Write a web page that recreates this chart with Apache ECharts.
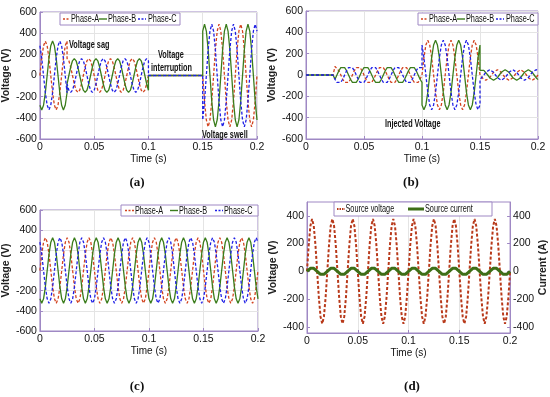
<!DOCTYPE html>
<html><head><meta charset="utf-8">
<script src="https://cdn.jsdelivr.net/npm/echarts@6/dist/echarts.min.js"></script>
<style>html,body{margin:0;padding:0;background:#fff}#chart{width:550px;height:397px}</style>
</head><body><div id="chart"></div>
<script>
// ---------- time samples (s) ----------
const timeSteady = [
0,0.00167,0.00333,0.005,0.00667,0.00833,
0.01,0.01167,0.01333,0.015,0.01667,0.01833,
0.02,0.02167,0.02333,0.025,0.02667,0.02833,
0.03,0.03167,0.03333,0.035,0.03667,0.03833,
0.04,0.04167,0.04333,0.045,0.04667,0.04833,
0.05,0.05167,0.05333,0.055,0.05667,0.05833,
0.06,0.06167,0.06333,0.065,0.06667,0.06833,
0.07,0.07167,0.07333,0.075,0.07667,0.07833,
0.08,0.08167,0.08333,0.085,0.08667,0.08833,
0.09,0.09167,0.09333,0.095,0.09667,0.09833,
0.1,0.10167,0.10333,0.105,0.10667,0.10833,
0.11,0.11167,0.11333,0.115,0.11667,0.11833,
0.12,0.12167,0.12333,0.125,0.12667,0.12833,
0.13,0.13167,0.13333,0.135,0.13667,0.13833,
0.14,0.14167,0.14333,0.145,0.14667,0.14833,
0.15,0.15167,0.15333,0.155,0.15667,0.15833,
0.16,0.16167,0.16333,0.165,0.16667,0.16833,
0.17,0.17167,0.17333,0.175,0.17667,0.17833,
0.18,0.18167,0.18333,0.185,0.18667,0.18833,
0.19,0.19167,0.19333,0.195,0.19667,0.19833,
0.2];
// same instants, with the switching instants 0.025 / 0.1 / 0.15 listed twice (step changes)
const timeEvent = [
0,0.00167,0.00333,0.005,0.00667,0.00833,
0.01,0.01167,0.01333,0.015,0.01667,0.01833,
0.02,0.02167,0.02333,0.025,0.025,0.02667,0.02833,
0.03,0.03167,0.03333,0.035,0.03667,0.03833,
0.04,0.04167,0.04333,0.045,0.04667,0.04833,
0.05,0.05167,0.05333,0.055,0.05667,0.05833,
0.06,0.06167,0.06333,0.065,0.06667,0.06833,
0.07,0.07167,0.07333,0.075,0.07667,0.07833,
0.08,0.08167,0.08333,0.085,0.08667,0.08833,
0.09,0.09167,0.09333,0.095,0.09667,0.09833,
0.1,0.1,0.10167,0.10333,0.105,0.10667,0.10833,
0.11,0.11167,0.11333,0.115,0.11667,0.11833,
0.12,0.12167,0.12333,0.125,0.12667,0.12833,
0.13,0.13167,0.13333,0.135,0.13667,0.13833,
0.14,0.14167,0.14333,0.145,0.14667,0.14833,
0.15,0.15,0.15167,0.15333,0.155,0.15667,0.15833,
0.16,0.16167,0.16333,0.165,0.16667,0.16833,
0.17,0.17167,0.17333,0.175,0.17667,0.17833,
0.18,0.18167,0.18333,0.185,0.18667,0.18833,
0.19,0.19167,0.19333,0.195,0.19667,0.19833,
0.2];

// ---------- (a) grid voltage with sag / interruption / swell ----------
const aPhaseA = [
0,163,281,325,281,163,0,-163,-281,-325,-281,-163,0,163,281,325,
160,139,80,0,-80,-139,-160,-139,-80,
0,80,139,160,139,80,0,-80,-139,-160,-139,-80,
0,80,139,160,139,80,0,-80,-139,-160,-139,-80,
0,80,139,160,139,80,0,-80,-139,-160,-139,-80,
0,
0,0,0,0,0,0,0,0,0,0,0,0,0,0,0,0,0,0,0,0,0,0,0,0,0,0,0,0,0,0,0,
0,-243,-420,-485,-420,-243,
0,243,420,485,420,243,0,-243,-420,-485,-420,-243,
0,243,420,485,420,243,0,-243,-420,-485,-420,-243,
0];
const aPhaseB = [
-281,-325,-281,-163,0,163,281,325,281,163,0,-163,-281,-325,-281,-163,
-80,0,80,139,160,139,80,0,-80,
-139,-160,-139,-80,0,80,139,160,139,80,0,-80,
-139,-160,-139,-80,0,80,139,160,139,80,0,-80,
-139,-160,-139,-80,0,80,139,160,139,80,0,-80,
-139,
0,0,0,0,0,0,0,0,0,0,0,0,0,0,0,0,0,0,0,0,0,0,0,0,0,0,0,0,0,0,0,
420,485,420,243,0,-243,
-420,-485,-420,-243,0,243,420,485,420,243,0,-243,
-420,-485,-420,-243,0,243,420,485,420,243,0,-243,
-420];
const aPhaseC = [
281,163,0,-163,-281,-325,-281,-163,0,163,281,325,281,163,0,-163,
-80,-139,-160,-139,-80,0,80,139,160,
139,80,0,-80,-139,-160,-139,-80,0,80,139,160,
139,80,0,-80,-139,-160,-139,-80,0,80,139,160,
139,80,0,-80,-139,-160,-139,-80,0,80,139,160,
139,
0,0,0,0,0,0,0,0,0,0,0,0,0,0,0,0,0,0,0,0,0,0,0,0,0,0,0,0,0,0,0,
-420,-243,0,243,420,485,
420,243,0,-243,-420,-485,-420,-243,0,243,420,485,
420,243,0,-243,-420,-485,-420,-243,0,243,420,485,
420];

// ---------- (b) injected voltage ----------
const bPhaseA = [
0,0,0,0,0,0,0,0,0,0,0,0,0,0,0,0,
80,69,40,0,-40,-69,-80,-69,-40,
0,40,69,80,69,40,0,-40,-69,-80,-69,-40,
0,40,69,80,69,40,0,-40,-69,-80,-69,-40,
0,40,69,80,69,40,0,-40,-69,-80,-69,-40,
0,
0,163,281,325,281,163,0,-163,-281,-325,-281,-163,
0,163,281,325,281,163,0,-163,-281,-325,-281,-163,
0,163,281,325,281,163,
0,
0,-25,-43,-50,-43,-25,
0,25,43,50,43,25,0,-25,-43,-50,-43,-25,
0,25,43,50,43,25,0,-25,-43,-50,-43,-25,
0];
const bPhaseB = [
0,0,0,0,0,0,0,0,0,0,0,0,0,0,0,0,
-40,0,40,69,80,69,40,0,-40,
-69,-80,-69,-40,0,40,69,80,69,40,0,-40,
-69,-80,-69,-40,0,40,69,80,69,40,0,-40,
-69,-80,-69,-40,0,40,69,80,69,40,0,-40,
-69,
-281,-325,-281,-163,0,163,281,325,281,163,0,-163,
-281,-325,-281,-163,0,163,281,325,281,163,0,-163,
-281,-325,-281,-163,0,163,
281,
43,50,43,25,0,-25,
-43,-50,-43,-25,0,25,43,50,43,25,0,-25,
-43,-50,-43,-25,0,25,43,50,43,25,0,-25,
-43];
const bPhaseC = [
0,0,0,0,0,0,0,0,0,0,0,0,0,0,0,0,
-40,-69,-80,-69,-40,0,40,69,80,
69,40,0,-40,-69,-80,-69,-40,0,40,69,80,
69,40,0,-40,-69,-80,-69,-40,0,40,69,80,
69,40,0,-40,-69,-80,-69,-40,0,40,69,80,
69,
281,163,0,-163,-281,-325,-281,-163,0,163,281,325,
281,163,0,-163,-281,-325,-281,-163,0,163,281,325,
281,163,0,-163,-281,-325,
-281,
-43,-25,0,25,43,50,
43,25,0,-25,-43,-50,-43,-25,0,25,43,50,
43,25,0,-25,-43,-50,-43,-25,0,25,43,50,
43];

// ---------- (c) compensated load voltage ----------
const cPhaseA = [
0,163,281,325,281,163,0,-163,-281,-325,-281,-163,
0,163,281,325,281,163,0,-163,-281,-325,-281,-163,
0,163,281,325,281,163,0,-163,-281,-325,-281,-163,
0,163,281,325,281,163,0,-163,-281,-325,-281,-163,
0,163,281,325,281,163,0,-163,-281,-325,-281,-163,
0,163,281,325,281,163,0,-163,-281,-325,-281,-163,
0,163,281,325,281,163,0,-163,-281,-325,-281,-163,
0,163,281,325,281,163,0,-163,-281,-325,-281,-163,
0,163,281,325,281,163,0,-163,-281,-325,-281,-163,
0,163,281,325,281,163,0,-163,-281,-325,-281,-163,
0];
const cPhaseB = [
-281,-325,-281,-163,0,163,281,325,281,163,0,-163,
-281,-325,-281,-163,0,163,281,325,281,163,0,-163,
-281,-325,-281,-163,0,163,281,325,281,163,0,-163,
-281,-325,-281,-163,0,163,281,325,281,163,0,-163,
-281,-325,-281,-163,0,163,281,325,281,163,0,-163,
-281,-325,-281,-163,0,163,281,325,281,163,0,-163,
-281,-325,-281,-163,0,163,281,325,281,163,0,-163,
-281,-325,-281,-163,0,163,281,325,281,163,0,-163,
-281,-325,-281,-163,0,163,281,325,281,163,0,-163,
-281,-325,-281,-163,0,163,281,325,281,163,0,-163,
-281];
const cPhaseC = [
281,163,0,-163,-281,-325,-281,-163,0,163,281,325,
281,163,0,-163,-281,-325,-281,-163,0,163,281,325,
281,163,0,-163,-281,-325,-281,-163,0,163,281,325,
281,163,0,-163,-281,-325,-281,-163,0,163,281,325,
281,163,0,-163,-281,-325,-281,-163,0,163,281,325,
281,163,0,-163,-281,-325,-281,-163,0,163,281,325,
281,163,0,-163,-281,-325,-281,-163,0,163,281,325,
281,163,0,-163,-281,-325,-281,-163,0,163,281,325,
281,163,0,-163,-281,-325,-281,-163,0,163,281,325,
281,163,0,-163,-281,-325,-281,-163,0,163,281,325,
281];

// ---------- (d) source voltage and current ----------
const dVoltage = [
0,189,327,378,327,189,0,-189,-327,-378,-327,-189,
0,189,327,378,327,189,0,-189,-327,-378,-327,-189,
0,189,327,378,327,189,0,-189,-327,-378,-327,-189,
0,189,327,378,327,189,0,-189,-327,-378,-327,-189,
0,189,327,378,327,189,0,-189,-327,-378,-327,-189,
0,189,327,378,327,189,0,-189,-327,-378,-327,-189,
0,189,327,378,327,189,0,-189,-327,-378,-327,-189,
0,189,327,378,327,189,0,-189,-327,-378,-327,-189,
0,189,327,378,327,189,0,-189,-327,-378,-327,-189,
0,189,327,378,327,189,0,-189,-327,-378,-327,-189,
0];
const dCurrent = [
0,13,22,25,22,13,0,-13,-22,-25,-22,-13,
0,13,22,25,22,13,0,-13,-22,-25,-22,-13,
0,13,22,25,22,13,0,-13,-22,-25,-22,-13,
0,13,22,25,22,13,0,-13,-22,-25,-22,-13,
0,13,22,25,22,13,0,-13,-22,-25,-22,-13,
0,13,22,25,22,13,0,-13,-22,-25,-22,-13,
0,13,22,25,22,13,0,-13,-22,-25,-22,-13,
0,13,22,25,22,13,0,-13,-22,-25,-22,-13,
0,13,22,25,22,13,0,-13,-22,-25,-22,-13,
0,13,22,25,22,13,0,-13,-22,-25,-22,-13,
0];

const phaseNames = ['Phase-A','Phase-B','Phase-C'];
const dNames = ['Source voltage','Source current'];
const dTicks = [-400,-200,0,200,400];

// ---------- styling ----------
const FONT = "'Liberation Sans',Arial,sans-serif";
const FRAME = '#9f88c4';
const GRIDC = '#e4e4e4';
const RED = '#d2431f', GREEN = '#3b7d1c', BLUE = '#1f1fe6';
const VRED = '#b8391a', IGREEN = '#3d6e17';
const NARROW = 0.73;
const ZTOP = 200;

function zip(t, v){ return t.map((x,i)=>[x, v[i]]); }

function xAx(g, gap){
  return {type:'value', gridIndex:g, min:0, max:0.2, interval:0.05,
    axisLine:{show:true, onZero:false, lineStyle:{color:FRAME}},
    axisTick:{show:true, inside:true, length:3, lineStyle:{color:FRAME}},
    axisLabel:{color:'#111', fontSize:10.5, fontFamily:FONT, margin:3},
    splitLine:{show:true, lineStyle:{color:GRIDC}},
    name:'Time (s)', nameLocation:'middle', nameGap:gap,
    nameTextStyle:{color:'#111', fontSize:10, fontFamily:FONT}};
}
function yAx(g, gap){
  return {type:'value', gridIndex:g, min:-600, max:600, interval:200,
    axisLine:{show:true, onZero:false, lineStyle:{color:FRAME}},
    axisTick:{show:true, inside:true, length:3, lineStyle:{color:FRAME}},
    axisLabel:{color:'#111', fontSize:10.5, fontFamily:FONT, margin:3},
    splitLine:{show:true, lineStyle:{color:GRIDC}},
    name:'Voltage (V)', nameLocation:'middle', nameRotate:90, nameGap:gap,
    nameTextStyle:{color:'#222', fontSize:10.5, fontWeight:'bold', fontFamily:FONT}};
}
function dY(pos, name, gap){
  return {type:'value', gridIndex:3, position:pos, min:-445, max:500,
    axisLine:{show:true, onZero:false, lineStyle:{color:FRAME}},
    axisTick:{show:true, inside:true, length:3, customValues:dTicks, lineStyle:{color:FRAME}},
    axisLabel:{color:'#111', fontSize:10.5, fontFamily:FONT, margin:3, customValues:dTicks},
    splitLine:{show:false},
    name:name, nameLocation:'middle', nameRotate:90, nameGap:gap,
    nameTextStyle:{color:'#222', fontSize:10.5, fontWeight:'bold', fontFamily:FONT}};
}
function phaseSeries(panel, t, a, b, c){
  const common = {type:'line', xAxisIndex:panel, yAxisIndex:panel, symbol:'none', showSymbol:false, silent:true, animation:false};
  return [
    Object.assign({}, common, {name:phaseNames[0], data:zip(t,a), lineStyle:{color:RED, width:1.3, type:[3,2]}, itemStyle:{color:RED}}),
    Object.assign({}, common, {name:phaseNames[1], data:zip(t,b), lineStyle:{color:GREEN, width:1.3, type:'solid'}, itemStyle:{color:GREEN}}),
    Object.assign({}, common, {name:phaseNames[2], data:zip(t,c), lineStyle:{color:BLUE, width:1.3, type:[3,2]}, itemStyle:{color:BLUE}})
  ];
}
// legend box drawn as graphic (narrow text like the original), above axes and lines
function legendBox(x, y, w, h, items){
  const ch = [{type:'rect', z:ZTOP, shape:{x:0, y:0, width:w, height:h}, style:{fill:'#fff', stroke:FRAME, lineWidth:1}}];
  items.forEach(it=>{
    ch.push({type:'line', z:ZTOP+1, shape:{x1:it.i0, y1:h/2, x2:it.i1, y2:h/2},
      style:{stroke:it.color, lineWidth:it.lw||1.4, lineDash:it.dash||null}});
    ch.push({type:'text', z:ZTOP+2, x:it.t, y:h/2+0.5, scaleX:NARROW,
      style:{text:it.text, font:"10px " + FONT, fill:'#111', align:'left', verticalAlign:'middle'}});
  });
  return {type:'group', x:x, y:y, z:ZTOP, silent:true, children:ch};
}
function phaseItems(p){
  return [
    {i0:p[0], i1:p[1], t:p[2], color:RED, dash:[2,1.5], text:phaseNames[0]},
    {i0:p[3], i1:p[4], t:p[5], color:GREEN, text:phaseNames[1]},
    {i0:p[6], i1:p[7], t:p[8], color:BLUE, dash:[2,1.5], text:phaseNames[2]}
  ];
}
function note(x, y, text){
  return {type:'text', x:x, y:y, scaleX:NARROW, z:ZTOP, silent:true,
    style:{text:text, font:"bold 10px " + FONT, fill:'#111', align:'left', verticalAlign:'middle'}};
}
function panelTag(x, y, text){
  return {type:'text', x:x, y:y, silent:true, z:ZTOP,
    style:{text:text, font:"bold 13px 'Liberation Serif',serif", fill:'#111', align:'center', verticalAlign:'middle'}};
}

const chart = echarts.init(document.getElementById('chart'), null, {renderer:'canvas'});
chart.setOption({
  animation:false,
  grid:[
    {left:31, top:12, width:226, height:127, show:true, borderColor:FRAME, borderWidth:1, backgroundColor:'#fff'},
    {left:306, top:11, width:232, height:128, show:true, borderColor:FRAME, borderWidth:1, backgroundColor:'#fff'},
    {left:29, top:210, width:229, height:121, show:true, borderColor:FRAME, borderWidth:1, backgroundColor:'#fff'},
    {left:307, top:202, width:210, height:131, show:true, borderColor:FRAME, borderWidth:1, backgroundColor:'#fff'}
  ],
  xAxis:[xAx(0,13), xAx(1,11), xAx(2,14), xAx(3,14)],
  yAxis:[yAx(0,17), yAx(1,18), yAx(2,16), dY('left','Voltage (V)',21), dY('right','Current (A)',24)],
  graphic:[
    legendBox(60, 13, 120, 12, phaseItems([3,10,11, 39,47,48, 78,86,88])),
    legendBox(418, 13, 120, 12, phaseItems([3,10,11, 39,47,48, 78,86,88])),
    legendBox(121, 205, 137, 11, phaseItems([4,13,14, 49,57,58, 94,102,103])),
    legendBox(334, 202, 158, 14, [
      {i0:3, i1:11, t:11.5, color:VRED, lw:2, dash:[1.5,1], text:dNames[0]},
      {i0:74, i1:90, t:91, color:IGREEN, lw:3, text:dNames[1]}
    ]),
    note(69, 45, 'Voltage sag'),
    note(158, 55, 'Voltage'),
    note(151, 68, 'interruption'),
    note(202, 135, 'Voltage swell'),
    note(385, 124, 'Injected Voltage'),
    panelTag(137, 183, '(a)'),
    panelTag(411, 183, '(b)'),
    panelTag(137, 387, '(c)'),
    panelTag(412, 387, '(d)')
  ],
  series:[].concat(
    phaseSeries(0, timeEvent, aPhaseA, aPhaseB, aPhaseC),
    phaseSeries(1, timeEvent, bPhaseA, bPhaseB, bPhaseC),
    phaseSeries(2, timeSteady, cPhaseA, cPhaseB, cPhaseC),
    [
      {type:'line', name:dNames[0], xAxisIndex:3, yAxisIndex:3, symbol:'none', showSymbol:false, silent:true,
       data:zip(timeSteady, dVoltage), lineStyle:{color:VRED, width:2, type:[3,2]}, itemStyle:{color:VRED}},
      {type:'line', name:dNames[1], xAxisIndex:3, yAxisIndex:4, symbol:'none', showSymbol:false, silent:true,
       data:zip(timeSteady, dCurrent), lineStyle:{color:IGREEN, width:3}, itemStyle:{color:IGREEN}}
    ]
  )
});
</script></body></html>
